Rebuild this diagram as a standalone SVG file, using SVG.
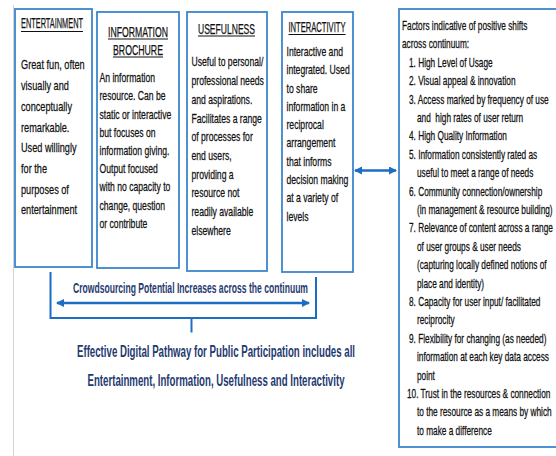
<svg xmlns="http://www.w3.org/2000/svg" width="556" height="456" viewBox="0 0 556 456">
  <style>
    .box { fill: #ffffff; stroke: #3b87cc; stroke-width: 1.8; }
    .t { font-family: "Liberation Sans", Arial, sans-serif; fill: #111111; stroke: #111111; stroke-width: 0.25; }
    .body { font-size: 12.5px; }
    .body1 { font-size: 13.5px; }
    .list { font-size: 12px; }
    .head { font-size: 14px; }
    .ul { stroke: #111111; stroke-width: 1; }
    .conn { fill: none; stroke: #1b6ec2; stroke-width: 2; }
    .arrow { fill: none; stroke: #1b6ec2; stroke-width: 2.5; }
    .cap { font-family: "Liberation Sans", Arial, sans-serif; font-weight: bold; fill: #1f3a70; }
  </style>
  <defs>
    <marker id="head" markerUnits="userSpaceOnUse" markerWidth="10" markerHeight="10" refX="7" refY="4" orient="auto-start-reverse">
      <path d="M0,0 L8,4 L0,8 Z" fill="#1b6ec2"/>
    </marker>
  </defs>

  <rect width="556" height="456" fill="#ffffff"/>
  <!-- page margin rule -->
  <line x1="13.5" y1="5" x2="13.5" y2="456" stroke="#d4d4d4" stroke-width="1"/>

  <!-- Entertainment -->
  <g id="node-entertainment">
    <rect class="box" x="15" y="9" width="77" height="258"/>
    <text class="t head" x="21" y="28" textLength="62" lengthAdjust="spacingAndGlyphs">ENTERTAINMENT</text>
    <line class="ul" x1="21" y1="31.5" x2="83" y2="31.5"/>
    <g transform="translate(21,0) scale(0.68,1)">
      <text class="t body1" x="0" y="69.5">Great fun, often</text>
      <text class="t body1" x="0" y="90.2">visually and</text>
      <text class="t body1" x="0" y="110.9">conceptually</text>
      <text class="t body1" x="0" y="131.6">remarkable.</text>
      <text class="t body1" x="0" y="152.3">Used willingly</text>
      <text class="t body1" x="0" y="173">for the</text>
      <text class="t body1" x="0" y="193.7">purposes of</text>
      <text class="t body1" x="0" y="214.4">entertainment</text>
    </g>
  </g>

  <!-- Information brochure -->
  <g id="node-information">
    <rect class="box" x="97" y="12" width="82" height="256"/>
    <text class="t head" x="108" y="36.5" textLength="60" lengthAdjust="spacingAndGlyphs">INFORMATION</text>
    <line class="ul" x1="108" y1="39" x2="168" y2="39"/>
    <text class="t head" x="113" y="54.5" textLength="50" lengthAdjust="spacingAndGlyphs">BROCHURE</text>
    <line class="ul" x1="113" y1="57" x2="163" y2="57"/>
    <g transform="translate(99.5,0) scale(0.69,1)">
      <text class="t body" x="0" y="82.3">An information</text>
      <text class="t body" x="0" y="100.5">resource. Can be</text>
      <text class="t body" x="0" y="118.7">static or interactive</text>
      <text class="t body" x="0" y="136.9">but focuses on</text>
      <text class="t body" x="0" y="155.1">information giving.</text>
      <text class="t body" x="0" y="173.3">Output focused</text>
      <text class="t body" x="0" y="191.5">with no capacity to</text>
      <text class="t body" x="0" y="209.7">change, question</text>
      <text class="t body" x="0" y="227.9">or contribute</text>
    </g>
  </g>

  <!-- Usefulness -->
  <g id="node-usefulness">
    <rect class="box" x="187" y="12" width="80" height="259"/>
    <text class="t head" x="198" y="33.5" textLength="57" lengthAdjust="spacingAndGlyphs">USEFULNESS</text>
    <line class="ul" x1="198" y1="36" x2="255" y2="36"/>
    <g transform="translate(191.5,0) scale(0.69,1)">
      <text class="t body" x="0" y="66.5">Useful to personal/</text>
      <text class="t body" x="0" y="85.2">professional needs</text>
      <text class="t body" x="0" y="103.9">and aspirations.</text>
      <text class="t body" x="0" y="122.6">Facilitates a range</text>
      <text class="t body" x="0" y="141.3">of processes for</text>
      <text class="t body" x="0" y="160">end users,</text>
      <text class="t body" x="0" y="178.7">providing a</text>
      <text class="t body" x="0" y="197.4">resource not</text>
      <text class="t body" x="0" y="216.1">readily available</text>
      <text class="t body" x="0" y="234.8">elsewhere</text>
    </g>
  </g>

  <!-- Interactivity -->
  <g id="node-interactivity">
    <rect class="box" x="282" y="12" width="71" height="260"/>
    <text class="t head" x="288.5" y="32" textLength="57" lengthAdjust="spacingAndGlyphs">INTERACTIVITY</text>
    <line class="ul" x1="288.5" y1="34.5" x2="345.5" y2="34.5"/>
    <g transform="translate(286.5,0) scale(0.69,1)">
      <text class="t body" x="0" y="56">Interactive and</text>
      <text class="t body" x="0" y="74.3">integrated. Used</text>
      <text class="t body" x="0" y="92.6">to share</text>
      <text class="t body" x="0" y="110.9">information in a</text>
      <text class="t body" x="0" y="129.2">reciprocal</text>
      <text class="t body" x="0" y="147.5">arrangement</text>
      <text class="t body" x="0" y="165.8">that informs</text>
      <text class="t body" x="0" y="184.1">decision making</text>
      <text class="t body" x="0" y="202.4">at a variety of</text>
      <text class="t body" x="0" y="220.7">levels</text>
    </g>
  </g>

  <!-- Factors panel -->
  <g id="node-factors">
    <rect class="box" x="399" y="9" width="170" height="438"/>
    <g transform="translate(402,0) scale(0.69,1)">
      <text class="t list" x="0" y="30">Factors indicative of positive shifts</text>
      <text class="t list" x="0" y="48.4">across continuum:</text>
      <text class="t list" x="10.1" y="66.8">1. High Level of Usage</text>
      <text class="t list" x="10.1" y="85.2">2. Visual appeal &amp; innovation</text>
      <text class="t list" x="10.1" y="103.6">3. Access marked by frequency of use</text>
      <text class="t list" x="21.7" y="122" style="white-space:pre">and  high rates of user return</text>
      <text class="t list" x="10.1" y="140.4">4. High Quality Information</text>
      <text class="t list" x="10.1" y="158.8">5. Information consistently rated as</text>
      <text class="t list" x="21.7" y="177.2">useful to meet a range of needs</text>
      <text class="t list" x="10.1" y="195.6">6. Community connection/ownership</text>
      <text class="t list" x="21.7" y="214">(in management &amp; resource building)</text>
      <text class="t list" x="10.1" y="232.4">7. Relevance of content across a range</text>
      <text class="t list" x="21.7" y="250.8">of user groups &amp; user needs</text>
      <text class="t list" x="21.7" y="269.2">(capturing locally defined notions of</text>
      <text class="t list" x="21.7" y="287.6">place and identity)</text>
      <text class="t list" x="10.1" y="306">8. Capacity for user input/ facilitated</text>
      <text class="t list" x="21.7" y="324.4">reciprocity</text>
      <text class="t list" x="10.1" y="342.8">9. Flexibility for changing (as needed)</text>
      <text class="t list" x="21.7" y="361.2">information at each key data access</text>
      <text class="t list" x="21.7" y="379.6">point</text>
      <text class="t list" x="7.2" y="398">10. Trust in the resources &amp; connection</text>
      <text class="t list" x="21.7" y="416.4">to the resource as a means by which</text>
      <text class="t list" x="21.7" y="434.8">to make a difference</text>
    </g>
  </g>

  <!-- Connectors -->
  <g id="connectors">
    <!-- two-way link between interactivity and factors -->
    <line class="arrow" x1="355" y1="170.5" x2="396" y2="170.5" marker-start="url(#head)" marker-end="url(#head)"/>
    <!-- continuum bracket -->
    <path class="conn" d="M50.5,272 V318 H316 V277"/>
    <line class="conn" x1="191.5" y1="318" x2="191.5" y2="332.5"/>
    <!-- continuum double arrow -->
    <line class="arrow" x1="57" y1="303" x2="309" y2="303" marker-start="url(#head)" marker-end="url(#head)"/>
  </g>

  <!-- Continuum captions -->
  <g id="captions">
    <text class="cap" x="73" y="293" font-size="15" textLength="235" lengthAdjust="spacingAndGlyphs">Crowdsourcing Potential Increases across the continuum</text>
    <text class="cap" x="77" y="357" font-size="16" textLength="278" lengthAdjust="spacingAndGlyphs">Effective Digital Pathway for Public Participation includes all</text>
    <text class="cap" x="87.5" y="386" font-size="16" textLength="257" lengthAdjust="spacingAndGlyphs">Entertainment, Information, Usefulness and Interactivity</text>
  </g>
</svg>
